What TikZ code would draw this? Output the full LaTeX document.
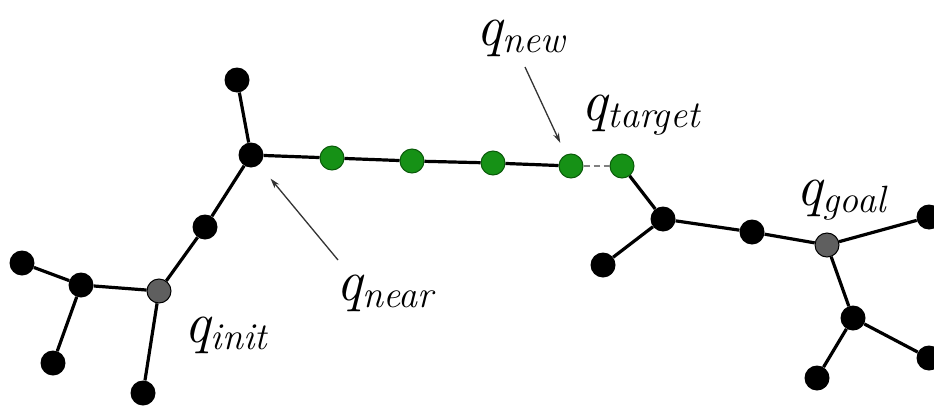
\documentclass[tikz,border=0pt]{standalone}
\usepackage{fontspec}
\usetikzlibrary{arrows.meta}
\newcommand{\qlab}[1]{{\fontsize{58}{58}\selectfont\itshape q}\kern0.5pt\raisebox{-7pt}{\fontsize{38}{38}\selectfont\itshape #1}}
\definecolor{treegreen}{RGB}{22,145,22}
\definecolor{treegreendark}{RGB}{10,90,10}
\definecolor{goalgray}{RGB}{95,95,95}
\tikzset{
  bnode/.style={circle,fill=black,minimum size=25pt,inner sep=0pt},
  gnode/.style={circle,fill=treegreen,draw=treegreendark,line width=1pt,minimum size=24pt,inner sep=0pt},
  graynode/.style={circle,fill=goalgray,draw=black,line width=1pt,minimum size=24pt,inner sep=0pt},
  edge/.style={line width=3.2pt,black},
  dashedge/.style={line width=1.6pt,gray,dash pattern=on 6pt off 4pt},
  pointer/.style={line width=1.3pt,black!80,-{Stealth[length=10pt,width=6pt]}},
  lbl/.style={anchor=base west,inner sep=0pt}
}
\begin{document}
\begin{tikzpicture}[x=1pt,y=-1pt]
\useasboundingbox (0,0) rectangle (934,407);
% left tree
\node[bnode] (top) at (237,80) {};
\node[bnode] (near) at (251,155) {};
\node[bnode] (mid) at (205,227) {};
\node[graynode] (init) at (159,291) {};
\node[bnode] (L) at (81,285) {};
\node[bnode] (LL) at (22,263) {};
\node[bnode] (LB) at (53,363) {};
\node[bnode] (IB) at (143,393) {};
% extension
\node[gnode] (g1) at (332,158) {};
\node[gnode] (g2) at (412,161) {};
\node[gnode] (g3) at (493,163) {};
\node[gnode] (g4) at (571,166) {};
\node[gnode] (g5) at (622,166) {};
% right tree
\node[bnode] (A) at (663,219) {};
\node[bnode] (B) at (603,265) {};
\node[bnode] (C) at (752,232) {};
\node[graynode] (goal) at (827,245) {};
\node[bnode] (TR) at (929,217) {};
\node[bnode] (D) at (853,318) {};
\node[bnode] (E) at (817,378) {};
\node[bnode] (F) at (929,358) {};
% edges
\draw[edge] (top) -- (near);
\draw[edge] (near) -- (mid);
\draw[edge] (mid) -- (init);
\draw[edge] (init) -- (L);
\draw[edge] (L) -- (LL);
\draw[edge] (L) -- (LB);
\draw[edge] (init) -- (IB);
\draw[edge] (near) -- (g1);
\draw[edge] (g1) -- (g2);
\draw[edge] (g2) -- (g3);
\draw[edge] (g3) -- (g4);
\draw[dashedge] (g4) -- (g5);
\draw[edge] (g5) -- (A);
\draw[edge] (A) -- (B);
\draw[edge] (A) -- (C);
\draw[edge] (C) -- (goal);
\draw[edge] (goal) -- (TR);
\draw[edge] (goal) -- (D);
\draw[edge] (D) -- (E);
\draw[edge] (D) -- (F);
% labels
\node[lbl] (linit) at (184,342) {\qlab{init}};
\node[lbl] (lnear) at (336,300) {\qlab{near}};
\node[lbl] (lnew) at (476,45) {\qlab{new}};
\node[lbl] (ltarget) at (581,120) {\qlab{target}};
\node[lbl] (lgoal) at (796,205) {\qlab{goal}};
% pointers
\coordinate (newtail) at (525,67);
\coordinate (neartail) at (338,260);
\draw[pointer,shorten >=13pt] (newtail) -- (g4);
\draw[pointer,shorten >=18pt] (neartail) -- (near);
\end{tikzpicture}
\end{document}
